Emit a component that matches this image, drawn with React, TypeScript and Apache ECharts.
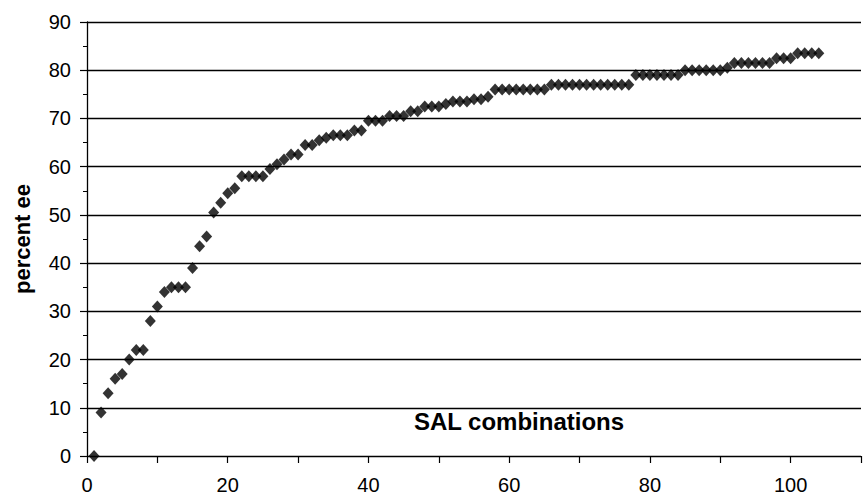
import React, { useEffect, useRef } from "react";
import * as echarts from "echarts";

const combos: number[] = Array.from({ length: 104 }, (_, i) => i + 1);
const percentEe: number[] = [
  0, 9, 13, 16, 17, 20, 22, 22, 28, 31,
  34, 35, 35, 35, 39, 43.5, 45.5, 50.5, 52.5, 54.5,
  55.5, 58, 58, 58, 58, 59.5, 60.5, 61.5, 62.5, 62.5,
  64.5, 64.5, 65.5, 66, 66.5, 66.5, 66.5, 67.5, 67.5, 69.5,
  69.5, 69.5, 70.5, 70.5, 70.5, 71.5, 71.5, 72.5, 72.5, 72.5,
  73, 73.5, 73.5, 73.5, 74, 74, 74.5, 76, 76, 76,
  76, 76, 76, 76, 76, 77, 77, 77, 77, 77,
  77, 77, 77, 77, 77, 77, 77, 79, 79, 79,
  79, 79, 79, 79, 80, 80, 80, 80, 80, 80,
  80.5, 81.5, 81.5, 81.5, 81.5, 81.5, 81.5, 82.5, 82.5, 82.5,
  83.5, 83.5, 83.5, 83.5,
];
const yAxisTitle = "percent ee";
const xAxisTitle = "SAL combinations";

const FONT = "'Liberation Sans', Arial, sans-serif";

export default function App() {
  const ref = useRef<HTMLDivElement>(null);
  useEffect(() => {
    if (!ref.current) return;
    const chart = echarts.init(ref.current, null, { renderer: "svg" });
    chart.setOption({
      animation: false,
      backgroundColor: "#fff",
      grid: { left: 87, right: -14, top: 22, bottom: 38, containLabel: false },
      xAxis: {
        type: "value",
        min: 0,
        max: 110,
        interval: 10,
        offset: 6,
        axisLine: { show: false },
        axisTick: { show: true, length: 7, lineStyle: { color: "#000", width: 1.2 } },
        axisLabel: {
          color: "#000",
          fontFamily: FONT,
          fontSize: 20,
          margin: 13,
          formatter: (v: number) => (v % 20 === 0 ? String(v) : ""),
        },
        splitLine: { show: false },
      },
      yAxis: {
        type: "value",
        min: 0,
        max: 90,
        interval: 10,
        name: yAxisTitle,
        nameLocation: "middle",
        nameGap: 54,
        nameTextStyle: { color: "#000", fontFamily: FONT, fontSize: 22, fontWeight: "bold" },
        axisLine: { show: true, lineStyle: { color: "#000", width: 1.3 } },
        axisTick: { show: true, length: 7, lineStyle: { color: "#000", width: 1.2 } },
        minorTick: { show: true, splitNumber: 2, length: 4, lineStyle: { color: "#000", width: 1 } },
        axisLabel: { color: "#000", fontFamily: FONT, fontSize: 20, margin: 16 },
        splitLine: { show: true, lineStyle: { color: "#000", width: 1.3 } },
      },
      graphic: [
        {
          type: "text",
          x: 519,
          y: 421,
          style: {
            text: xAxisTitle,
            fontFamily: FONT,
            fontSize: 24,
            fontWeight: "bold",
            fill: "#000",
            textAlign: "center",
            textVerticalAlign: "middle",
          },
        },
      ],
      series: [
        {
          type: "scatter",
          data: combos.map((x, i) => [x, percentEe[i]]),
          symbol: "diamond",
          symbolSize: [11, 12],
          itemStyle: { color: "#000" },
        },
      ],
    });
    return () => chart.dispose();
  }, []);
  return (
    <div
      ref={ref}
      style={{ position: "fixed", left: 0, top: 0, width: 864, height: 495 }}
    />
  );
}
